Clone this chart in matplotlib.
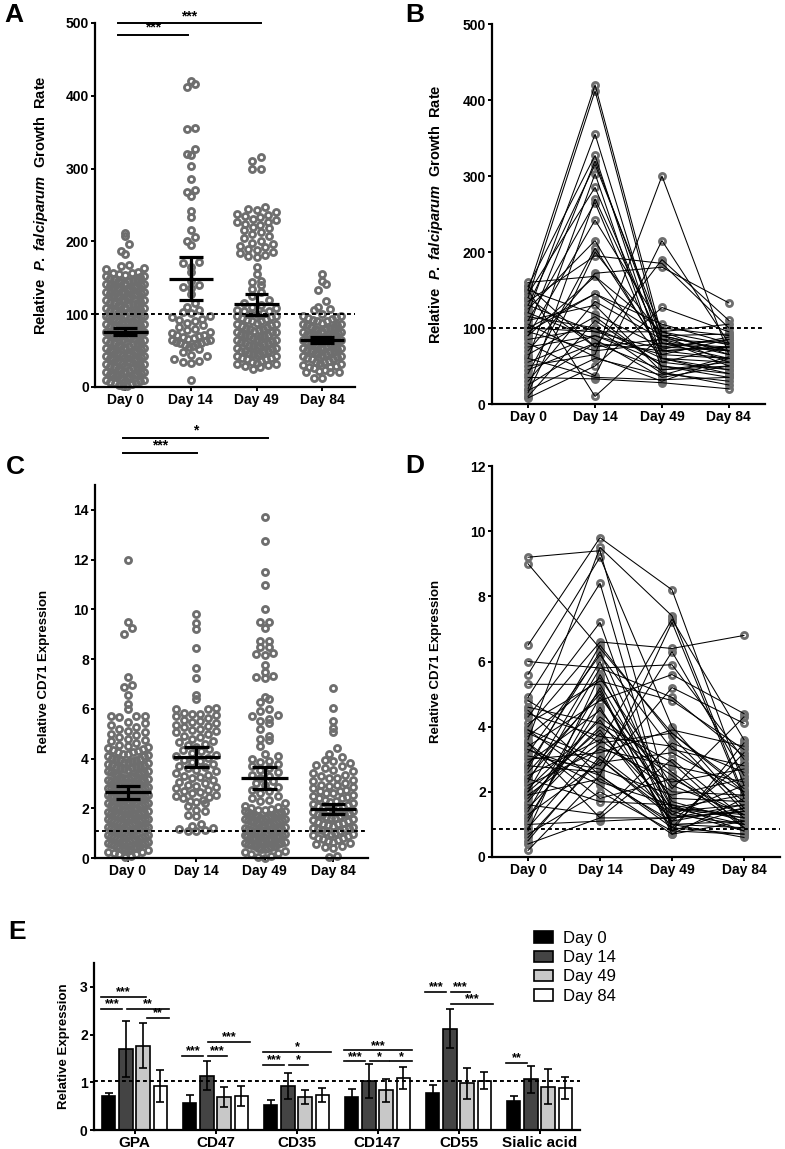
import numpy as np
import matplotlib
matplotlib.use('Agg')
import matplotlib.pyplot as plt
from matplotlib.patches import Patch

# ---------------- data ----------------
days = ['Day 0', 'Day 14', 'Day 49', 'Day 84']

A_day0 = [212, 208, 197, 187, 183, 168, 166, 164, 162,
          158, 157, 155, 154, 152, 150, 149, 147, 146, 144, 143, 141, 140, 138, 137, 135,
          134, 132, 131, 129, 128, 126, 125, 123, 122, 121, 119, 118, 116, 115, 113, 112,
          110, 109, 107, 106, 104, 103, 101, 100, 98, 97, 96, 94, 93, 91, 90, 88, 87, 85,
          84, 83, 81, 80, 78, 77, 76, 74, 73, 71, 70, 69, 67, 66, 64, 63, 62, 60, 59, 57,
          56, 55, 53, 52, 50, 49, 48, 46, 45, 43, 42, 41, 39, 38, 36, 35, 34, 32, 31, 29,
          28, 27, 25, 24, 22, 21, 20, 18, 17, 15, 14, 13, 11, 10, 8, 7, 6, 4, 3, 1,
          145, 139, 127, 117, 105, 95, 86, 75, 65, 58, 47, 37, 26, 16, 9, 2,
          151, 133, 111, 92, 79, 68, 54, 44, 33, 19,
          156, 148, 142, 136, 130, 124, 120, 114, 108, 102, 99, 89, 82, 72, 61, 51, 40, 30,
          23, 12, 5, 153, 129, 97, 71, 45, 18, 140, 88, 35]
A_day14 = [421, 416, 412, 356, 355, 327, 320, 318, 303, 286, 270, 268, 263, 242, 234,
           216, 206, 200, 195, 172, 170, 165, 158, 146, 140, 138, 136, 128, 115, 110, 106,
           103, 101, 98, 96, 94, 92, 90, 88, 85, 83, 80, 78, 76, 74, 72, 71, 70, 68, 67,
           66, 65, 64, 63, 62, 61, 60, 59, 58, 57, 55, 52, 48, 44, 42, 38, 36, 35, 33, 10]
A_day49 = [316, 310, 300, 299,
           247, 244, 243, 241, 238, 236, 235, 233, 231, 229, 227, 226, 224, 222, 220, 218,
           215, 213, 210, 207, 204, 201, 198, 196, 194, 192, 190, 188, 186, 184, 182, 180, 178,
           165, 155, 146, 144, 140, 135, 130, 125, 120, 115,
           112, 110, 108, 106, 104, 102, 100, 98, 96, 94, 92, 90, 88, 86, 84, 82, 80, 78, 77,
           75, 73, 71, 70, 68, 66, 64, 63, 61, 59, 57, 56, 54, 52, 50, 49, 47, 45, 43, 42,
           40, 38, 36, 35, 33, 31, 29, 27, 25, 100, 90, 80, 70, 60, 50, 40, 30, 95, 85, 75,
           65, 55, 45, 97, 87, 76, 67, 58, 48, 39, 32, 105, 81, 62, 44, 72, 53]
A_day84 = [155, 146, 141, 133, 118, 110, 107, 106,
           100, 98, 96, 95, 93, 91, 90, 88, 86, 85, 83, 81, 80, 78, 76, 75, 73, 71, 70, 68,
           66, 65, 63, 61, 60, 58, 56, 55, 53, 51, 50, 48, 46, 45, 43, 41, 40, 38, 36, 35,
           33, 31, 30, 28, 26, 24, 22, 21, 21, 20, 12, 12, 85, 72, 64, 57, 49, 42,
           97, 92, 87, 82, 77, 74, 69, 67, 62, 59, 54, 52, 47, 44, 39, 34, 29, 27, 79, 66]
A_mean = [76, 149, 114, 64]
A_sem_lo = [71, 119, 99.5, 60]
A_sem_hi = [80.5, 178, 127.5, 69]
A_ref = 100
A_sig_x0 = [-0.11, -0.11]
A_sig_x1 = [0.96, 2.07]
A_sig_y = [484, 500]
A_sig_lab = ['***', '***']

B_day0 = [150, 140, 120, 155, 100, 130, 60, 145, 20, 110, 90, 125, 40, 15, 135, 70, 160, 95, 30, 150,
          10, 85, 100, 55, 120, 25, 140, 95, 50, 105, 8, 80, 35, 150, 115, 75, 65, 45, 130, 18,
          155, 90, 110, 60, 100]
B_day14 = [420, 412, 355, 327, 320, 315, 303, 285, 270, 265, 242, 215, 205, 200, 195, 172, 168, 145, 135, 118,
           110, 100, 95, 90, 85, 80, 75, 70, 65, 62, 50, 37, 33, 10, 100, 90, 115, 80, 95, 60,
           75, 168, 130, 35, 145]
B_day49 = [90, 80, 70, 60, 85, 95, 45, 75, 80, 55, 100, 65, 70, 90, 185, 180, 60, 105, 85, 75,
           50, 40, 95, 65, 35, 70, 190, 80, 300, 30, 127, 215, 28, 90, 60, 55, 50, 45, 72, 38,
           85, 95, 42, 32, 90]
B_day84 = [70, 60, 75, 55, 80, 65, 50, 85, 70, 45, 90, 60, 75, 55, 100, 133, 40, 80, 65, 70,
           35, 30, 105, 85, 50, 60, 110, 75, 65, 60, 95, 80, 20, 70, 45, 75, 40, 55, 88, 62,
           50, 78, 25, 35, 92]
B_ref = 100

C_day0 = [12.0, 9.5, 9.23, 9.0, 7.29, 6.95, 6.89, 6.54, 6.21, 6.01, 5.72, 5.70, 5.68, 5.72,
          5.48, 5.41, 5.33, 5.27, 5.2, 5.12, 5.05, 4.98, 4.93, 4.88, 4.8, 4.74, 4.69, 4.61,
          4.55, 4.5, 4.44, 4.38, 4.31, 4.26, 4.2, 4.15, 4.1, 4.04, 3.99, 3.94, 3.88, 3.83,
          3.78, 3.72, 3.67, 3.62, 3.57, 3.51, 3.46, 3.41, 3.36, 3.3, 3.25, 3.2, 3.15, 3.09,
          3.04, 2.99, 2.94, 2.88, 2.83, 2.78, 2.73, 2.68, 2.62, 2.57, 2.52, 2.47, 2.41, 2.36,
          2.31, 2.26, 2.2, 2.15, 2.1, 2.05, 1.99, 1.94, 1.89, 1.84, 1.78, 1.73, 1.68, 1.63,
          1.57, 1.52, 1.47, 1.42, 1.36, 1.31, 1.26, 1.21, 1.15, 1.1, 1.05, 1.0, 0.94, 0.89,
          0.84, 0.79, 0.73, 0.68, 0.63, 0.58, 0.52, 0.47, 0.42, 0.37, 0.31, 0.26, 0.21, 0.15,
          0.1, 0.05, 4.47, 4.12, 3.85, 3.6, 3.38, 3.18, 3.0, 2.85, 2.7, 2.55, 2.44, 2.33,
          2.22, 2.12, 2.02, 1.92, 1.82, 1.71, 1.6, 1.5, 1.4, 1.29, 1.18, 1.08, 0.97, 0.86,
          0.76, 0.65, 0.55, 0.45, 0.35, 4.0, 3.7, 3.5, 3.1, 2.9, 2.6, 2.4, 2.25, 2.0, 1.75,
          1.55, 1.25, 1.12, 0.9, 0.6, 0.4, 0.38, 3.95, 2.75,
          4.25, 3.65, 3.22, 2.8, 2.5, 2.17, 1.86, 1.45, 1.2, 0.8, 3.45, 2.63,
          4.35, 4.18, 3.92, 3.76, 3.55, 3.33, 3.12, 2.96, 2.81, 2.65, 2.49, 2.38, 2.28, 2.08,
          1.96, 1.8, 1.66, 1.53, 1.38, 1.23, 1.06, 0.92, 0.77, 0.62, 0.5, 0.33, 0.24, 0.18,
          2.91, 2.44, 1.97, 1.58, 1.13, 0.7, 3.27, 2.72]
C_day14 = [9.8, 9.44, 9.22, 8.43, 7.66, 7.22, 6.55, 6.38, 6.05, 6.0, 5.98,
           5.85, 5.8, 5.78, 5.75, 5.7, 5.62, 5.55, 5.5, 5.45, 5.42, 5.35, 5.3, 5.25, 5.2,
           5.15, 5.1, 5.05, 4.98, 4.92, 4.85, 4.8, 4.72, 4.65, 4.6, 4.55, 4.48, 4.4, 4.35,
           4.3, 4.22, 4.15, 4.1, 4.02, 3.95, 3.9, 3.85, 3.78, 3.7, 3.65, 3.6, 3.55, 3.5,
           3.42, 3.35, 3.3, 3.25, 3.2, 3.12, 3.05, 3.0, 2.95, 2.9, 2.85, 2.8, 2.75, 2.7,
           2.65, 2.6, 2.55, 2.5, 2.45, 2.4, 2.35, 2.3, 2.25, 2.2, 2.1, 1.95, 1.9, 1.72,
           1.7, 1.35, 1.3, 1.2, 1.15, 1.12, 1.1, 1.08]
C_day49 = [13.73, 12.75, 11.5, 10.98, 10.0, 9.5, 9.5, 9.23, 8.74, 8.74, 8.5, 8.5, 8.23, 8.2,
           8.15, 7.76, 7.5, 7.33, 7.26, 7.22, 6.46, 6.38, 6.28, 6.0, 5.9, 5.75, 5.7, 5.6, 5.5,
           5.42, 5.2, 4.9, 4.8, 4.75, 4.5, 4.2, 4.1, 4.0,
           3.9, 3.85, 3.8, 3.7, 3.6, 3.55, 3.45, 3.35, 3.3, 3.2, 3.1, 3.0, 2.95, 2.85, 2.75,
           2.7, 2.6, 2.5, 2.4, 2.35, 2.3, 2.2, 2.1, 2.05, 2.0,
           1.95, 1.9, 1.85, 1.8, 1.75, 1.7, 1.65, 1.6, 1.55, 1.5, 1.45, 1.4, 1.35, 1.3, 1.25,
           1.2, 1.15, 1.1, 1.05, 1.0, 0.95, 0.9, 0.85, 0.8, 0.75, 0.7, 0.65, 0.6, 0.55, 0.5,
           0.45, 0.4, 0.35, 0.3, 0.25, 0.2, 0.15, 0.1, 0.05, 0.0, 1.88, 1.72, 1.58, 1.42,
           1.28, 1.12, 0.98, 0.82, 0.68, 0.52, 0.38, 1.62, 1.18, 0.88, 0.62, 1.38, 1.02, 0.78,
           1.78, 1.48, 1.08, 0.72, 1.92, 1.52, 0.92, 0.58,
           1.83, 1.67, 1.53, 1.33, 1.22, 1.07, 0.93, 0.83, 0.73, 0.63, 0.48, 0.42, 1.97, 1.44]
C_day84 = [6.83, 6.02, 5.51, 5.22, 5.08, 4.41, 4.18, 4.05,
           3.95, 3.9, 3.82, 3.75, 3.7, 3.62, 3.55, 3.5, 3.42, 3.35, 3.3, 3.22, 3.15, 3.1,
           3.02, 2.95, 2.9, 2.82, 2.75, 2.7, 2.62, 2.55, 2.5, 2.42, 2.35, 2.3, 2.22, 2.15,
           2.1, 2.02, 1.95, 1.9, 1.82, 1.75, 1.7, 1.62, 1.55, 1.5, 1.42, 1.35, 1.3, 1.22,
           1.15, 1.1, 1.02, 0.95, 0.9, 0.82, 0.75, 0.7, 0.62, 0.55, 0.5, 0.43, 0.4, 0.05,
           0.1, 2.6, 2.0, 1.6, 1.2, 0.8, 2.4, 1.85, 1.45, 1.05, 3.2, 2.85, 0.65,
           1.78, 1.38, 1.15, 2.25, 0.98,
           2.92, 2.68, 2.46, 2.18, 1.93, 1.72, 1.52, 1.33, 1.12, 0.92, 0.72, 2.06, 1.66, 1.26]
C_mean = [2.66, 4.07, 3.22, 1.97]
C_sem_lo = [2.39, 3.64, 2.77, 1.77]
C_sem_hi = [2.89, 4.47, 3.66, 2.17]
C_ref = 1.1
C_sig_x0 = [-0.07, -0.07]
C_sig_x1 = [1.01, 2.05]
C_sig_y = [16.3, 16.9]
C_sig_lab = ['***', '*']

D_day0 = [9.2, 9.0, 6.5, 6.0, 5.6, 5.3, 4.9, 4.8, 4.5, 4.3, 4.0, 3.9, 3.8, 3.7, 3.5, 3.4, 3.3, 3.2, 3.0, 2.9,
          2.8, 2.6, 2.5, 2.4, 2.3, 2.2, 2.1, 2.0, 1.9, 1.8, 1.6, 1.5, 1.4, 1.3, 1.2, 1.0, 0.9, 0.8, 0.7, 0.5,
          0.4, 0.2, 3.6, 4.1, 2.7, 3.1, 1.7, 2.0, 3.9, 4.4, 1.1, 0.6, 2.4, 3.5, 1.9, 2.8, 4.6, 3.3]
D_day14 = [9.4, 6.4, 9.8, 5.8, 9.2, 5.3, 8.4, 3.5, 2.5, 7.2, 6.6, 3.0, 2.8, 5.5, 1.2, 4.8, 2.2, 6.2, 3.2, 4.5,
           2.6, 5.0, 3.6, 1.7, 6.0, 3.3, 4.2, 5.8, 2.4, 4.0, 1.3, 3.8, 5.2, 2.9, 4.6, 1.1, 3.4, 5.6, 2.0, 3.1,
           1.2, 2.5, 9.5, 5.4, 6.5, 2.7, 4.3, 3.9, 2.3, 3.7, 4.9, 3.0, 5.1, 1.8, 3.5, 6.3, 4.1, 2.5]
D_day49 = [1.5, 3.8, 8.2, 5.9, 4.0, 1.5, 0.8, 7.3, 7.2, 1.0, 6.4, 1.2, 6.3, 2.2, 1.2, 5.6, 0.7, 3.3, 3.9, 1.8,
           5.2, 1.4, 2.0, 1.6, 0.9, 2.8, 1.3, 4.9, 1.1, 2.5, 3.5, 1.5, 0.7, 3.2, 1.0, 1.2, 2.3, 1.7, 0.8, 1.4,
           3.0, 0.9, 7.4, 4.8, 3.7, 1.9, 2.6, 1.1, 1.6, 3.4, 2.1, 1.3, 0.8, 2.4, 3.8, 1.5, 2.9, 1.0]
D_day84 = [1.2, 2.0, 2.2, 3.0, 1.5, 1.0, 0.7, 3.6, 1.8, 0.9, 6.8, 1.4, 2.5, 1.3, 1.6, 4.4, 1.1, 2.8, 3.4, 1.7,
           4.1, 0.8, 1.9, 1.2, 3.2, 2.3, 1.0, 3.1, 1.5, 0.9, 2.6, 1.3, 1.8, 2.0, 0.6, 1.4, 2.7, 1.1, 3.5, 1.6,
           1.2, 0.7, 1.9, 3.3, 1.4, 2.4, 1.0, 2.9, 0.8, 1.7, 4.3, 2.2, 1.5, 1.3, 2.1, 1.9, 0.9, 1.1]
D_ref = 0.87

E_markers = ['GPA', 'CD47', 'CD35', 'CD147', 'CD55', 'Sialic acid']
E_day0 = [0.71, 0.57, 0.53, 0.69, 0.78, 0.61]
E_day14 = [1.70, 1.14, 0.93, 1.03, 2.12, 1.06]
E_day49 = [1.77, 0.69, 0.69, 0.83, 0.98, 0.91]
E_day84 = [0.92, 0.72, 0.73, 1.08, 1.03, 0.88]
E_err0 = [0.07, 0.17, 0.09, 0.17, 0.17, 0.11]
E_err14 = [0.58, 0.30, 0.27, 0.35, 0.41, 0.28]
E_err49 = [0.48, 0.21, 0.14, 0.245, 0.32, 0.36]
E_err84 = [0.33, 0.21, 0.14, 0.23, 0.18, 0.23]
E_colors = ['#000000', '#444444', '#c8c8c8', '#ffffff']
E_ref = 1.02
# significance: (marker index, first bar, last bar, height, label)
E_sig = [(0, 0, 2, 2.79, '***'), (0, 0, 1, 2.54, '***'), (0, 1, 3, 2.54, '**'), (0, 2, 3, 2.35, '**'),
         (1, 0, 1, 1.56, '***'), (1, 1, 2, 1.56, '***'), (1, 1, 3, 1.84, '***'),
         (2, 0, 3, 1.63, '*'), (2, 0, 1, 1.37, '***'), (2, 1, 2, 1.37, '*'),
         (3, 0, 3, 1.67, '***'), (3, 0, 1, 1.44, '***'), (3, 1, 2, 1.44, '*'), (3, 2, 3, 1.44, '*'),
         (4, 0, 1, 2.90, '***'), (4, 1, 2, 2.90, '***'), (4, 1, 3, 2.64, '***'),
         (5, 0, 1, 1.41, '**')]

# ---------------- style ----------------
plt.rcParams['font.family'] = ['Liberation Sans', 'DejaVu Sans']
plt.rcParams['font.weight'] = 'bold'
plt.rcParams['mathtext.fontset'] = 'custom'
plt.rcParams['mathtext.rm'] = 'Liberation Sans:bold'
plt.rcParams['mathtext.it'] = 'Liberation Sans:italic:bold'
plt.rcParams['mathtext.bf'] = 'Liberation Sans:bold'

GRAY = '#6e6e6e'
DOT = (0, (2.0, 1.6))
MS = 4.4
MEW = 2.0

fig = plt.figure(figsize=(7.85, 11.49), dpi=100)


def fa(l, r, t, b):
    return fig.add_axes([l / 785, 1 - b / 1149, (r - l) / 785, (b - t) / 1149])


def style(ax, labelsize=10):
    for s in ['top', 'right']:
        ax.spines[s].set_visible(False)
    for s in ['left', 'bottom']:
        ax.spines[s].set_linewidth(1.6)
    ax.tick_params(direction='out', length=3, width=1.4, labelsize=labelsize, pad=1.5)


def swarm_offsets(vals, row_h, dx, maxw):
    vals = np.asarray(vals, float)
    xs = np.zeros(len(vals))
    bins = np.floor(vals / row_h).astype(int)
    for b in np.unique(bins):
        idx = np.where(bins == b)[0]
        idx = idx[np.argsort(vals[idx], kind='stable')]
        n = len(idx)
        if n == 1:
            continue
        sp = min(dx, maxw / (n - 1))
        offs = (np.arange(n) - (n - 1) / 2) * sp
        offs = offs[np.argsort(np.abs(offs), kind='stable')]
        xs[idx] = offs
    return xs


def scatter_panel(ax, groups, row_h, means, lo, hi):
    for i, g in enumerate(groups):
        off = swarm_offsets(g, row_h, 0.125, 0.58)
        ax.plot(i + off, g, 'o', ms=MS, mfc='none', mec=GRAY, mew=MEW,
                clip_on=False, zorder=2)
    for i in range(len(groups)):
        ax.hlines(means[i], i - 0.34, i + 0.34, color='k', lw=2.3, zorder=4)
        ax.vlines(i, lo[i], hi[i], color='k', lw=2.3, zorder=4)
        ax.hlines([lo[i], hi[i]], i - 0.18, i + 0.18, color='k', lw=2.3, zorder=4)


def paired_panel(ax, cols):
    arr = np.array(cols)  # days x subjects
    x = np.arange(arr.shape[0])
    for s in range(arr.shape[1]):
        ax.plot(x, arr[:, s], 'o', ms=MS, mfc='none', mec=GRAY, mew=MEW,
                clip_on=False, zorder=2)
    for s in range(arr.shape[1]):
        ax.plot(x, arr[:, s], '-', color='k', lw=0.75, zorder=3, clip_on=False)


def sig(ax, x0s, x1s, ys, labs, fs=10):
    for x0, x1, y, lab in zip(x0s, x1s, ys, labs):
        ax.plot([x0, x1], [y, y], color='k', lw=1.4, clip_on=False)
        ax.text((x0 + x1) / 2, y, lab, ha='center', va='bottom', fontsize=fs,
                clip_on=False)


# ---------------- Panel A ----------------
axA = fa(95, 355, 23, 387)
scatter_panel(axA, [A_day0, A_day14, A_day49, A_day84], 11, A_mean, A_sem_lo, A_sem_hi)
axA.axhline(A_ref, color='k', ls=DOT, lw=1.4, zorder=5)
axA.set_xlim(-0.46, 3.5)
axA.set_ylim(0, 500)
axA.set_yticks([0, 100, 200, 300, 400, 500])
axA.set_xticks(range(4))
axA.set_xticklabels(days)
style(axA)
sig(axA, A_sig_x0, A_sig_x1, A_sig_y, A_sig_lab)
axA.text(-0.208, 0.5, r'Relative  $P.\ falciparum$  Growth  Rate', transform=axA.transAxes,
         rotation=90, ha='center', va='center', fontsize=10.5)

# ---------------- Panel B ----------------
axB = fa(492, 765, 24, 404)
paired_panel(axB, [B_day0, B_day14, B_day49, B_day84])
axB.axhline(B_ref, color='k', ls=DOT, lw=1.4, zorder=5)
axB.set_xlim(-0.54, 3.54)
axB.set_ylim(0, 500)
axB.set_yticks([0, 100, 200, 300, 400, 500])
axB.set_xticks(range(4))
axB.set_xticklabels(days)
style(axB)
axB.text(-0.205, 0.5, r'Relative  $P.\ falciparum$  Growth  Rate', transform=axB.transAxes,
         rotation=90, ha='center', va='center', fontsize=10.5)

# ---------------- Panel C ----------------
axC = fa(95, 368, 485, 858)
scatter_panel(axC, [C_day0, C_day14, C_day49, C_day84], 0.32, C_mean, C_sem_lo, C_sem_hi)
axC.axhline(C_ref, color='k', ls=DOT, lw=1.4, zorder=5)
axC.set_xlim(-0.48, 3.51)
axC.set_ylim(0, 15)
axC.set_yticks(range(0, 15, 2))
axC.set_xticks(range(4))
axC.set_xticklabels(days)
style(axC)
sig(axC, C_sig_x0, C_sig_x1, C_sig_y, C_sig_lab)
axC.text(-0.185, 0.5, 'Relative CD71 Expression', transform=axC.transAxes,
         rotation=90, ha='center', va='center', fontsize=9.5)

# ---------------- Panel D ----------------
axD = fa(492, 780, 466, 857)
paired_panel(axD, [D_day0, D_day14, D_day49, D_day84])
axD.axhline(D_ref, color='k', ls=DOT, lw=1.4, zorder=5)
axD.set_xlim(-0.5, 3.5)
axD.set_ylim(0, 12)
axD.set_yticks(range(0, 13, 2))
axD.set_xticks(range(4))
axD.set_xticklabels(days)
style(axD)
axD.text(-0.193, 0.5, 'Relative CD71 Expression', transform=axD.transAxes,
         rotation=90, ha='center', va='center', fontsize=9.5)

# ---------------- Panel E ----------------
axE = fa(94, 580, 963, 1130)
step = 0.212
width = 0.165
offsets = (np.arange(4) - 1.5) * step
xg = np.arange(len(E_markers))
E_vals = [E_day0, E_day14, E_day49, E_day84]
E_errs = [E_err0, E_err14, E_err49, E_err84]
for k in range(4):
    axE.bar(xg + offsets[k], E_vals[k], width=width, color=E_colors[k], edgecolor='k',
            linewidth=1.2, zorder=2, label=days[k])
    axE.errorbar(xg + offsets[k], E_vals[k], yerr=E_errs[k], fmt='none', ecolor='k',
                 elinewidth=1.2, capsize=3.2, capthick=1.2, zorder=3)
axE.axhline(E_ref, color='k', ls=DOT, lw=1.4, zorder=5)
axE.set_xlim(-0.5, 5.5)
axE.set_ylim(0, 3.5)
axE.set_yticks([0, 1, 2, 3])
axE.set_xticks(xg)
axE.set_xticklabels(E_markers)
style(axE, labelsize=10)
axE.tick_params(axis='x', labelsize=11)
sig_start = [-0.41, -0.09, 0.16]
sig_end = [None, -0.15, 0.14, 0.42]
for g, i, j, y, lab in E_sig:
    x0 = g + sig_start[i]
    x1 = g + sig_end[j]
    axE.plot([x0, x1], [y, y], color='k', lw=1.2, clip_on=False)
    axE.text((x0 + x1) / 2, y - 0.03, lab, ha='center', va='bottom', fontsize=9)
axE.text(-0.062, 0.5, 'Relative Expression', transform=axE.transAxes,
         rotation=90, ha='center', va='center', fontsize=9.5)
handles = [Patch(facecolor=E_colors[k], edgecolor='k', linewidth=1.2) for k in range(4)]
fig.legend(handles, days, loc='upper left', bbox_to_anchor=(534 / 785, 1 - 931 / 1149),
           frameon=False, borderpad=0, borderaxespad=0, handlelength=1.15, handleheight=0.7,
           handletextpad=0.6, labelspacing=0.25,
           prop={'family': ['Liberation Sans Narrow', 'Liberation Sans'], 'weight': 'normal', 'size': 12})

# ---------------- panel letters ----------------
for lab, x, y in [('A', 4, 3), ('B', 405, 3), ('C', 6, 455), ('D', 405, 454), ('E', 8, 920)]:
    fig.text(x / 785, 1 - y / 1149, lab, fontsize=19, fontweight='bold', ha='left', va='top')

fig.savefig('out.png', dpi=100)
